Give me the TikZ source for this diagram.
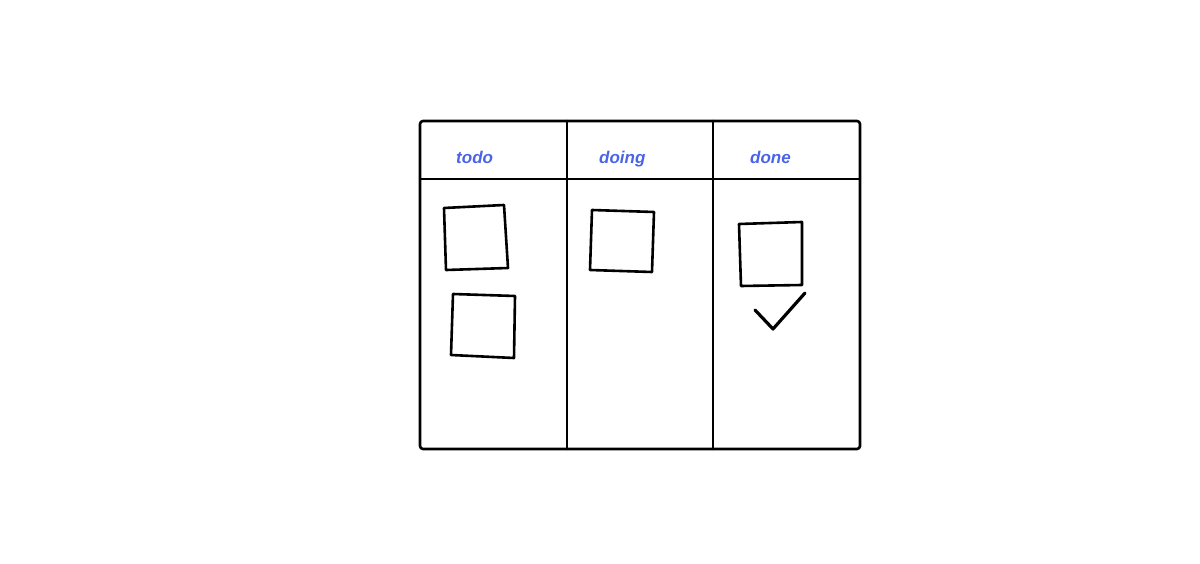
\documentclass[tikz,border=0pt]{standalone}
\usepackage{fontspec}
\setmainfont{Liberation Sans}
\definecolor{inkblue}{HTML}{4A63E7}
\tikzset{
  sketch/.style={draw=black, line width=2.6pt, line join=round, line cap=round},
  label/.style={text=inkblue, font=\fontsize{17}{20}\selectfont\itshape\bfseries, inner sep=0pt, anchor=base west},
}
\begin{document}
\begin{tikzpicture}[x=1pt,y=-1pt]
\useasboundingbox (0,0) rectangle (1200,564);
% board
\draw[sketch, rounded corners=3pt] (420,121) rectangle (860,449);
\draw[sketch] (420,179) -- (860,179);
\draw[sketch] (567,121) -- (567,449);
\draw[sketch] (713,121) -- (713,449);
% headers
\node[label] (todo) at (456,164) {todo};
\node[label] (doing) at (599,164) {doing};
\node[label] (done) at (750,164) {done};
% sticky notes
\draw[sketch] (444,208) -- (504,205) -- (508,268) -- (446,270) -- cycle;
\draw[sketch] (453,294) -- (515,296) -- (514,358) -- (451,355) -- cycle;
\draw[sketch] (592,210) -- (654,212) -- (652,272) -- (590,270) -- cycle;
\draw[sketch] (739,224) -- (802,222) -- (802,285) -- (741,286) -- cycle;
% check mark
\draw[sketch, line width=3.2pt] (755,310) -- (773,329) -- (805,293);
\end{tikzpicture}
\end{document}
